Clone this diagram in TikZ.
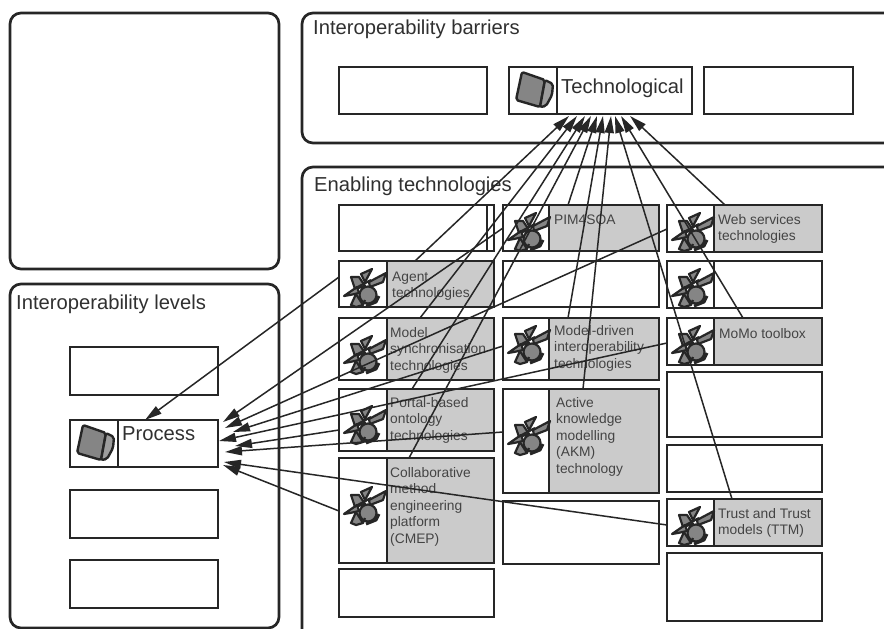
\documentclass[tikz,border=0pt]{standalone}
\usepackage{fontspec}
\setmainfont{Liberation Sans}
\usetikzlibrary{arrows.meta}
\definecolor{ink}{HTML}{262626}
\definecolor{txt}{HTML}{444444}
\definecolor{shade}{HTML}{CBCBCB}
\definecolor{iconfill}{HTML}{858585}
\tikzset{
  x=1pt,y=-1pt,
  frame/.style={draw=ink,line width=2.7pt,rounded corners=11pt},
  cell/.style={draw=ink,line width=2.7pt,fill=white,inner sep=0pt,outer sep=0pt,anchor=north west},
  title/.style={text=txt!70!black,font=\fontsize{20.2}{23}\selectfont,anchor=west,inner sep=0pt},
  lbl/.style={text=txt,font=\fontsize{13.8}{16.5}\selectfont,anchor=north west,align=left,inner sep=0pt},
  conn/.style={draw=ink,line width=1.5pt,-{Triangle[length=17pt,width=9pt]}},
  bug/.pic={
    \begin{scope}[yshift=-3pt,draw=ink,line width=2.2pt,line join=round,fill=iconfill]
      \filldraw (47,6) -- (30,15) -- (31,20) -- (44,15) -- cycle;
      \filldraw (33,2) -- (22,7) -- (26,15) -- cycle;
      \filldraw (12,10) -- (20,10) -- (26,19) -- (16,22) -- cycle;
      \filldraw (5,29) -- (18,20) -- (20,26) -- (11,28) -- cycle;
      \filldraw (12,38) -- (17,27) -- (24,38) -- (17,40) -- cycle;
      \filldraw (29,28) circle[radius=8.5];
      \draw[line width=3pt] (27,39) -- (37,35) -- (40,29);
      \draw (15,22) -- (32,13);
      \draw (24,38) -- (26,33);
    \end{scope}
  },
  monitor/.pic={
    \begin{scope}[draw=ink,line width=2.4pt,line join=round,rounded corners=2pt]
      \filldraw[fill=iconfill] (13,5) -- (36,13) -- (31,40) -- (7,33) -- cycle;
      \filldraw[fill=iconfill!80!white] (36,13) -- (44,17) -- (43,28) -- (37,39) -- (31,40) -- cycle;
    \end{scope}
  }
}
\newcommand\bx[5]{%
  \pgfmathsetmacro\bw{#4-#2}\pgfmathsetmacro\bh{#5-#3}%
  \node[cell,minimum width=\bw pt,minimum height=\bh pt] (#1) at (#2,#3) {};}
% name x1 y1 x2 y2 xdiv shaded-colour
\newcommand\dbx[7]{%
  \bx{#1}{#2}{#3}{#4}{#5}%
  \filldraw[draw=ink,line width=2.7pt,fill=#7] (#6,#3) rectangle (#4,#5);}
\newcommand\lab[4]{\node[lbl] (#1) at (#2,#3-6.5) {\strut #4};}
\begin{document}
\begin{tikzpicture}
\useasboundingbox (0,0) rectangle (884,629);
\clip (0,0) rectangle (884,629);
\fill[white] (0,0) rectangle (884,629);
% containers
\draw[frame] (10,13) rectangle (279,269);
\draw[frame] (10,284) rectangle (279,628);
\draw[frame] (302,13) rectangle (910,143);
\draw[frame] (302,167) rectangle (910,660);
\node[title] (tBarriers) at (313,29) {Interoperability barriers};
\node[title] (tEnabling) at (314,186) {Enabling technologies};
\node[title] (tLevels) at (16,304) {Interoperability levels};
% barriers
\bx{bA}{339}{67}{487}{114}
\dbx{tech}{509}{67}{692}{114}{557}{white}
\bx{bC}{704}{67}{853}{114}
\pic at (509,67) {monitor};
\node[title,anchor=west] (techT) at (561,88) {Technological};
% levels
\bx{lA}{70}{347}{218}{395}
\dbx{proc}{70}{420}{218}{467}{118}{white}
\bx{lC}{70}{490}{218}{538}
\bx{lD}{70}{560}{218}{608}
\pic at (70,420) {monitor};
\node[title,anchor=west] (procT) at (122,434) {Process};
% column 1
\dbx{blank1}{339}{205}{494}{251}{487}{white}
\dbx{agent}{339}{261}{494}{307}{387}{shade}
\dbx{msync}{339}{318}{494}{380}{387}{shade}
\dbx{portal}{339}{389}{494}{451}{387}{shade}
\dbx{cmep}{339}{458}{494}{563}{387}{shade}
\bx{blank2}{339}{569}{494}{617}
\pic at (339,264) {bug};
\pic at (339,331) {bug};
\pic at (339,401) {bug};
\pic at (339,482) {bug};
% column 2
\dbx{pim}{503}{205}{659}{251}{549}{shade}
\bx{blank3}{503}{261}{659}{307}
\dbx{mdi}{503}{318}{659}{380}{549}{shade}
\dbx{akm}{503}{389}{659}{493}{549}{shade}
\bx{blank4}{503}{501}{659}{564}
\pic at (503,208) {bug};
\pic at (503,321) {bug};
\pic at (503,412) {bug};
% column 3
\dbx{web}{667}{205}{822}{252}{714}{shade}
\dbx{blank5}{667}{261}{822}{308}{714}{white}
\dbx{momo}{667}{318}{822}{365}{714}{shade}
\bx{blank6}{667}{372}{822}{437}
\bx{blank7}{667}{445}{822}{492}
\dbx{ttm}{667}{499}{822}{546}{714}{shade}
\bx{blank8}{667}{553}{822}{621}
\pic at (667,208) {bug};
\pic at (667,264) {bug};
\pic at (667,321) {bug};
\pic at (667,502) {bug};
% labels
\lab{lAgent}{392}{276}{Agent\\technologies}
\lab{lMsync}{390}{332}{Model\\synchronisation\\technologies}
\lab{lPortal}{390}{402}{Portal-based\\ontology\\technologies}
\lab{lCmep}{390}{472}{Collaborative\\method\\engineering\\platform\\(CMEP)}
\lab{lPim}{554}{219}{PIM4SOA}
\lab{lMdi}{554}{330}{Model-driven\\interoperability\\technologies}
\lab{lAkm}{556}{402}{Active\\knowledge\\modelling\\(AKM)\\technology}
\lab{lWeb}{718}{219}{Web services\\technologies}
\lab{lMomo}{719}{333}{MoMo toolbox}
\lab{lTtm}{718}{513}{Trust and Trust\\models (TTM)}
% connectors to Technological
\draw[conn] ([xshift=76]agent.north west) -- ([xshift=60,yshift=-2]tech.south west);
\draw[conn] ([xshift=81]msync.north west) -- ([xshift=68,yshift=-2]tech.south west);
\draw[conn] ([xshift=73]portal.north west) -- ([xshift=76,yshift=-2]tech.south west);
\draw[conn] ([xshift=70]cmep.north west) -- ([xshift=82,yshift=-2]tech.south west);
\draw[conn] ([xshift=65]pim.north west) -- ([xshift=88,yshift=-2]tech.south west);
\draw[conn] ([xshift=65]mdi.north west) -- ([xshift=94,yshift=-2]tech.south west);
\draw[conn] ([xshift=80]akm.north west) -- ([xshift=102,yshift=-2]tech.south west);
\draw[conn] ([xshift=65]ttm.north west) -- ([xshift=106,yshift=-2]tech.south west);
\draw[conn] ([xshift=76]momo.north west) -- ([xshift=112,yshift=-2]tech.south west);
\draw[conn] ([xshift=58]web.north west) -- ([xshift=121,yshift=-2]tech.south west);
% connectors to Process
\draw[conn] ([yshift=-16]agent.north west) -- ([xshift=75]proc.north west);
\draw[conn] ([yshift=-23]pim.north west) -- ([xshift=153,yshift=-2]proc.north west);
\draw[conn] ([yshift=-24]web.north west) -- ([xshift=155,yshift=-8]proc.north west);
\draw[conn] ([yshift=-28]mdi.north west) -- ([xshift=163,yshift=-12]proc.north west);
\draw[conn] ([yshift=-25]momo.north west) -- ([xshift=149,yshift=-21]proc.north west);
\draw[conn] ([yshift=-41]portal.north west) -- ([xshift=165,yshift=-26]proc.north west);
\draw[conn] ([yshift=-43]akm.north west) -- ([xshift=155,yshift=-32]proc.north west);
\draw[conn] ([yshift=-26]ttm.north west) -- ([xshift=154,yshift=-42]proc.north west);
\draw[conn] ([yshift=-53]cmep.north west) -- ([xshift=153,yshift=-45]proc.north west);
\end{tikzpicture}
\end{document}
